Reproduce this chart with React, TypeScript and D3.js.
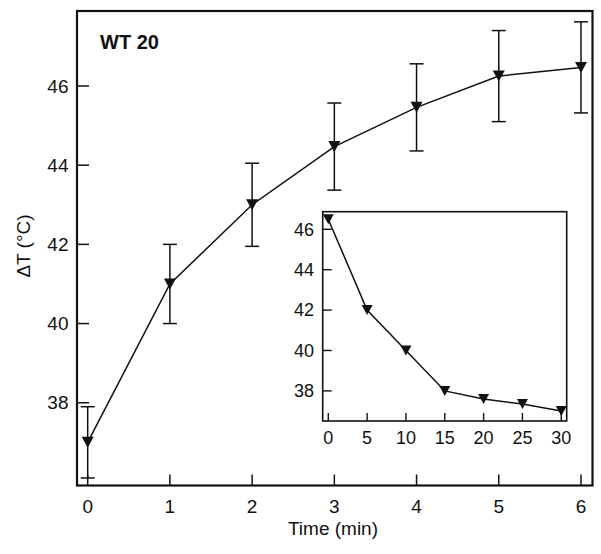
import React from "react";
import * as d3 from "d3";

// Main series
const mainTime = [0, 1, 2, 3, 4, 5, 6];
const mainDT = [37.0, 41.0, 43.0, 44.47, 45.46, 46.25, 46.47];
const mainErr = [0.9, 1.0, 1.05, 1.1, 1.1, 1.15, 1.15];
const mainXTicks = [0, 1, 2, 3, 4, 5, 6];
const mainYTicks = [38, 40, 42, 44, 46];

// Inset series
const insetTime = [0, 5, 10, 15, 20, 25, 30];
const insetDT = [46.5, 42.0, 40.0, 38.0, 37.6, 37.35, 37.0];
const insetXTicks = [0, 5, 10, 15, 20, 25, 30];
const insetYTicks = [38, 40, 42, 44, 46];

const FONT = "Arial, 'Liberation Sans', Helvetica, sans-serif";

function tri(cx: number, cy: number, w: number, h: number) {
  const p = d3.path();
  p.moveTo(cx - w / 2, cy - h / 2);
  p.lineTo(cx + w / 2, cy - h / 2);
  p.lineTo(cx, cy + h / 2);
  p.closePath();
  return p.toString();
}

export default function App() {
  const W = 601, H = 554;
  // main plot frame
  const L = 77, T = 11, R = 592.5, B = 485.5;
  const x = d3.scaleLinear().domain([-0.13, 6.14]).range([L, R]);
  const y = d3.scaleLinear().domain([35.91, 47.894]).range([B, T]);

  // inset frame
  const iL = 322.7, iT = 211.7, iR = 566.7, iB = 421;
  const ix = d3.scaleLinear().domain([-0.72, 30.7]).range([iL, iR]);
  const iy = d3.scaleLinear().domain([36.51, 46.87]).range([iB, iT]);

  const mainPts = mainTime.map((t, i) => [t, mainDT[i]] as [number, number]);
  const insetPts = insetTime.map((t, i) => [t, insetDT[i]] as [number, number]);

  const mainLine = d3.line<[number, number]>().x(d => x(d[0])).y(d => y(d[1]));
  const insetLine = d3.line<[number, number]>().x(d => ix(d[0])).y(d => iy(d[1]));

  return (
    <svg width={W} height={H} style={{ position: "absolute", left: 0, top: 0, background: "#fff" }} fontFamily={FONT}>
      <rect x={0} y={0} width={W} height={H} fill="#fff" />
      {/* main frame */}
      <rect x={L} y={T} width={R - L} height={B - T} fill="none" stroke="#111" strokeWidth={2.2} />
      {/* main ticks */}
      {mainXTicks.map(t => (
        <g key={"mx" + t}>
          <line x1={x(t)} x2={x(t)} y1={B} y2={B - 11} stroke="#111" strokeWidth={1.5} />
          <text x={x(t)} y={513} textAnchor="middle" fontSize={19} fill="#111">{t}</text>
        </g>
      ))}
      {mainYTicks.map(t => (
        <g key={"my" + t}>
          <line x1={L} x2={L + 12} y1={y(t)} y2={y(t)} stroke="#111" strokeWidth={1.5} />
          <text x={68.5} y={y(t) + 6.6} textAnchor="end" fontSize={19} fill="#111">{t}</text>
        </g>
      ))}
      {/* axis labels */}
      <text x={333} y={535} textAnchor="middle" fontSize={19} fill="#111">Time (min)</text>
      <text transform="translate(30,246) rotate(-90)" textAnchor="middle" fontSize={19} fill="#111">ΔT (°C)</text>
      <text x={100} y={49} fontSize={20} fontWeight="bold" fill="#111">WT 20</text>

      {/* main line */}
      <path d={mainLine(mainPts) || ""} fill="none" stroke="#111" strokeWidth={1.5} />
      {/* error bars */}
      {mainPts.map((d, i) => {
        const cx = x(d[0]);
        const y1 = y(d[1] + mainErr[i]);
        const y2 = y(d[1] - mainErr[i]);
        return (
          <g key={"e" + i} stroke="#111" strokeWidth={1.5}>
            <line x1={cx} x2={cx} y1={y1} y2={y2} />
            <line x1={cx - 7} x2={cx + 7} y1={y1} y2={y1} />
            <line x1={cx - 7} x2={cx + 7} y1={y2} y2={y2} />
          </g>
        );
      })}
      {mainPts.map((d, i) => (
        <path key={"m" + i} d={tri(x(d[0]), y(d[1]), 12, 11)} fill="#111" />
      ))}

      {/* inset */}
      <rect x={iL} y={iT} width={iR - iL} height={iB - iT} fill="#fff" stroke="#111" strokeWidth={1.6} />
      {insetXTicks.map(t => (
        <g key={"ix" + t}>
          <line x1={ix(t)} x2={ix(t)} y1={iB} y2={iB - 8} stroke="#111" strokeWidth={1.4} />
          <text x={ix(t)} y={444} textAnchor="middle" fontSize={18} fill="#111">{t}</text>
        </g>
      ))}
      {insetYTicks.map(t => (
        <g key={"iy" + t}>
          <line x1={iL} x2={iL + 9} y1={iy(t)} y2={iy(t)} stroke="#111" strokeWidth={1.4} />
          <text x={314} y={iy(t) + 6.3} textAnchor="end" fontSize={18} fill="#111">{t}</text>
        </g>
      ))}
      <path d={insetLine(insetPts) || ""} fill="none" stroke="#111" strokeWidth={1.5} />
      {insetPts.map((d, i) => (
        <path key={"im" + i} d={tri(ix(d[0]), iy(d[1]), 11, 10)} fill="#111" />
      ))}
    </svg>
  );
}
